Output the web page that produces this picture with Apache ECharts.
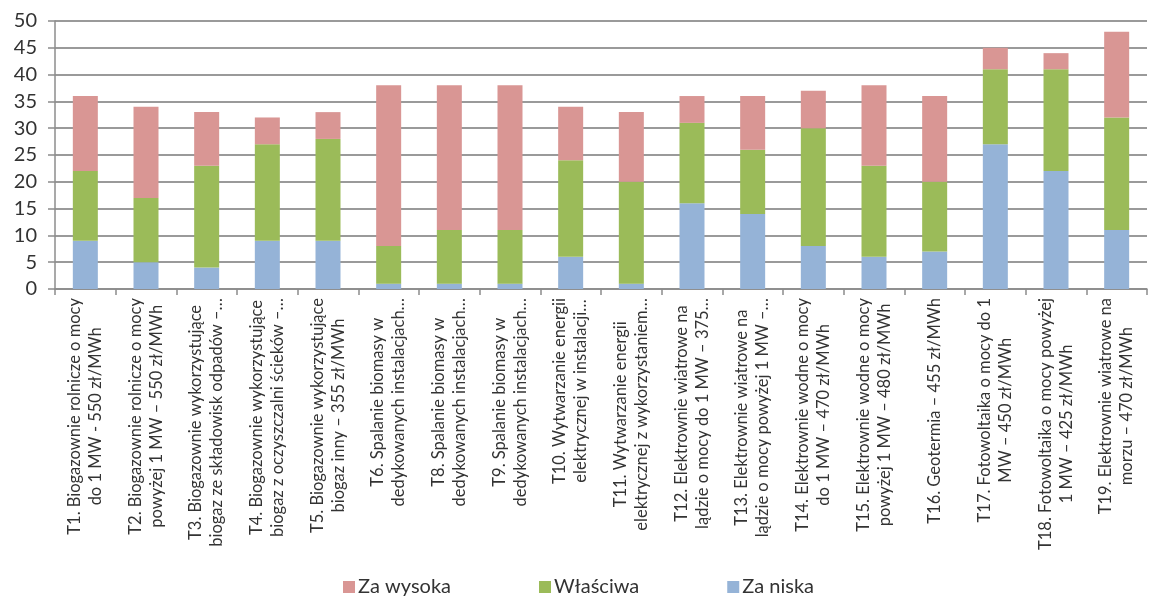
<!DOCTYPE html>
<html>
<head>
<meta charset="utf-8">
<script src="https://cdn.jsdelivr.net/npm/echarts@6/dist/echarts.min.js"></script>
<style>
  html, body { margin: 0; padding: 0; background: #ffffff; }
  #chart { width: 1157px; height: 597px; }
</style>
</head>
<body>
<div id="chart"></div>
<script>
// Category labels, split into the two lines shown under each bar
const categories = [
  ['T1. Biogazownie rolnicze o mocy', 'do 1 MW - 550 zł/MWh'],
  ['T2. Biogazownie rolnicze o mocy', 'powyżej 1 MW – 550 zł/MWh'],
  ['T3. Biogazownie wykorzystujące', 'biogaz ze składowisk odpadów –…'],
  ['T4. Biogazownie wykorzystujące', 'biogaz z oczyszczalni ścieków –…'],
  ['T5. Biogazownie wykorzystujące', 'biogaz inny – 355 zł/MWh'],
  ['T6. Spalanie biomasy w', 'dedykowanych instalacjach…'],
  ['T8. Spalanie biomasy w', 'dedykowanych instalacjach…'],
  ['T9. Spalanie biomasy w', 'dedykowanych instalacjach…'],
  ['T10. Wytwarzanie energii', 'elektrycznej w instalacji…'],
  ['T11. Wytwarzanie energii', 'elektrycznej z wykorzystaniem…'],
  ['T12. Elektrownie wiatrowe na', 'lądzie o mocy do 1 MW – 375…'],
  ['T13. Elektrownie wiatrowe na', 'lądzie o mocy powyżej 1 MW –…'],
  ['T14. Elektrownie wodne o mocy', 'do 1 MW – 470 zł/MWh'],
  ['T15. Elektrownie wodne o mocy', 'powyżej 1 MW – 480 zł/MWh'],
  ['T16. Geotermia – 455 zł/MWh'],
  ['T17. Fotowoltaika o mocy do 1', 'MW – 450 zł/MWh'],
  ['T18. Fotowoltaika o mocy powyżej', '1 MW – 425 zł/MWh'],
  ['T19. Elektrownie wiatrowe na', 'morzu – 470 zł/MWh']
];

// Stacked segments, bottom to top
const zaNiska   = [9, 5, 4, 9, 9, 1, 1, 1, 6, 1, 16, 14, 8, 6, 7, 27, 22, 11];
const wlasciwa  = [13, 12, 19, 18, 19, 7, 10, 10, 18, 19, 15, 12, 22, 17, 13, 14, 19, 21];
const zaWysoka  = [14, 17, 10, 5, 5, 30, 27, 27, 10, 13, 5, 10, 7, 15, 16, 4, 3, 16];

const yTicks = { min: 0, max: 50, interval: 5 };

const seriesNames = { high: 'Za wysoka', ok: 'Właściwa', low: 'Za niska' };
const colors = { high: '#d99694', ok: '#9bbb59', low: '#95b3d7' };

const FONT = 'Lato, "Open Sans", sans-serif';
const TEXT = '#333333';

const chart = echarts.init(document.getElementById('chart'), null, { renderer: 'canvas' });

const labelKeys = categories.map(lines => lines.map(l => '{c|' + l + '}').join('\n'));

function bar(name, data, color) {
  return {
    name: name,
    type: 'bar',
    stack: 'total',
    barWidth: 25,
    data: data,
    itemStyle: { color: color },
    emphasis: { disabled: true }
  };
}

chart.setOption({
  animation: false,
  textStyle: { fontFamily: FONT },
  grid: { left: 55, right: 10, top: 21, bottom: 308, containLabel: false },
  legend: {
    top: 576,
    padding: 0,
    left: 'center',
    itemWidth: 12,
    itemHeight: 12,
    itemGap: 88,
    icon: 'rect',
    data: [seriesNames.high, seriesNames.ok, seriesNames.low],
    textStyle: { fontFamily: FONT, fontSize: 20, lineHeight: 22, color: TEXT, padding: [0, 0, 0, -2] }
  },
  xAxis: {
    type: 'category',
    data: labelKeys,
    axisLine: { show: true, lineStyle: { color: '#8c8c8c', width: 1.5 } },
    axisTick: { show: true, alignWithLabel: false, length: 6, lineStyle: { color: '#8c8c8c', width: 1.5 } },
    axisLabel: {
      interval: 0,
      rotate: 90,
      margin: 9,
      color: TEXT,
      rich: {
        c: { fontFamily: FONT, fontSize: 16.5, lineHeight: 21, align: 'center', color: TEXT }
      }
    }
  },
  yAxis: {
    type: 'value',
    min: yTicks.min,
    max: yTicks.max,
    interval: yTicks.interval,
    axisLine: { show: true, lineStyle: { color: '#8c8c8c', width: 1.5 } },
    axisTick: { show: true, length: 7, lineStyle: { color: '#8c8c8c', width: 1.5 } },
    axisLabel: { fontFamily: FONT, fontSize: 20, color: TEXT, margin: 18 },
    splitLine: { show: true, lineStyle: { color: '#9a9a9a', width: 2 } }
  },
  series: [
    bar(seriesNames.low, zaNiska, colors.low),
    bar(seriesNames.ok, wlasciwa, colors.ok),
    bar(seriesNames.high, zaWysoka, colors.high)
  ]
});
</script>
</body>
</html>
